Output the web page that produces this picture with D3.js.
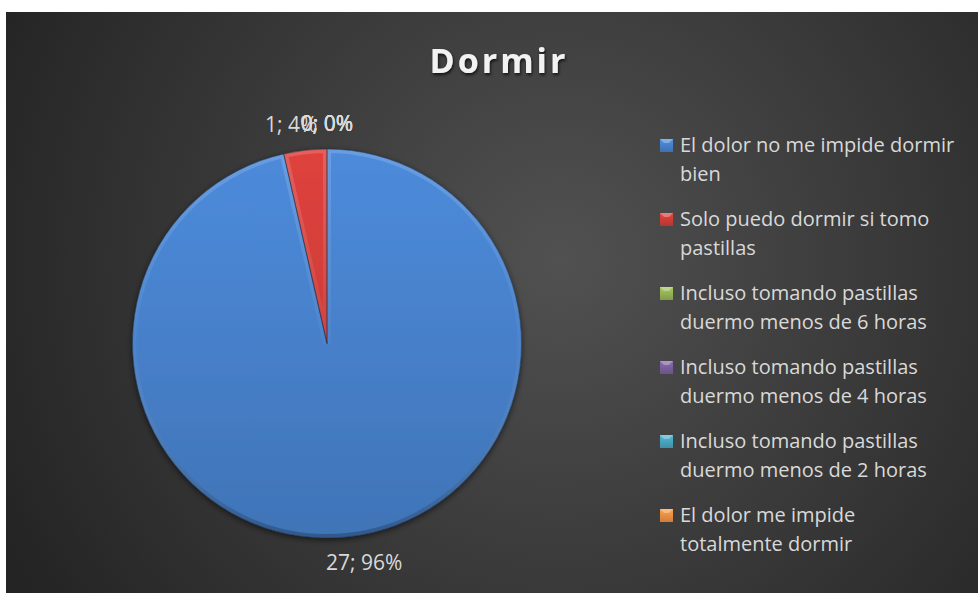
<!DOCTYPE html>
<html>
<head>
<meta charset="utf-8">
<script src="https://cdn.jsdelivr.net/npm/d3@7/dist/d3.min.js"></script>
<style>
  html, body { margin: 0; padding: 0; background: #fff; }
  svg { display: block; }
</style>
</head>
<body>
<svg id="pie-chart" width="980" height="593"></svg>
<script>
const chartTitle = 'Dormir';
const categories = [
  'El dolor no me impide dormir bien',
  'Solo puedo dormir si tomo pastillas',
  'Incluso tomando pastillas duermo menos de 6 horas',
  'Incluso tomando pastillas duermo menos de 4 horas',
  'Incluso tomando pastillas duermo menos de 2 horas',
  'El dolor me impide totalmente dormir'
];
const values = [27, 1, 0, 0, 0, 0];
const colors = ['#4a86d3', '#d7403b', '#9bbb59', '#8064a2', '#4bacc6', '#f79646'];

const svg = d3.select('#pie-chart'),
  width = +svg.attr('width'),
  height = +svg.attr('height');

const defs = svg.append('defs');

// background panel
const bg = defs.append('radialGradient').attr('id', 'bg')
  .attr('gradientUnits', 'userSpaceOnUse')
  .attr('cx', 560).attr('cy', 260).attr('r', 620);
bg.append('stop').attr('offset', '0%').attr('stop-color', '#515151');
bg.append('stop').attr('offset', '100%').attr('stop-color', '#242424');

svg.append('rect')
  .attr('x', 6).attr('y', 12)
  .attr('width', width - 8).attr('height', height - 12)
  .attr('fill', 'url(#bg)');

const shadow = defs.append('filter').attr('id', 'shadow')
  .attr('x', '-20%').attr('y', '-20%').attr('width', '140%').attr('height', '140%');
shadow.append('feDropShadow')
  .attr('dx', 0).attr('dy', 2).attr('stdDeviation', 3)
  .attr('flood-color', '#000').attr('flood-opacity', 0.6);

const titleShadow = defs.append('filter').attr('id', 'titleShadow');
titleShadow.append('feDropShadow')
  .attr('dx', 1).attr('dy', 2).attr('stdDeviation', 1.5)
  .attr('flood-color', '#000').attr('flood-opacity', 0.7);

// title
svg.append('text')
  .attr('x', 499).attr('y', 73)
  .attr('text-anchor', 'middle')
  .style('font-family', '"Open Sans", sans-serif')
  .style('font-weight', 'bold')
  .style('font-size', '34px')
  .style('letter-spacing', '3px')
  .attr('fill', '#f2f2f2')
  .attr('filter', 'url(#titleShadow)')
  .text(chartTitle);

// pie
const cx = 327, cy = 343.5, radius = 194.5;
const g = svg.append('g').attr('transform', 'translate(' + cx + ',' + cy + ')');

const pie = d3.pie().sort(null).value(function (d) { return d; });
const arcs = pie(values);
const arc = d3.arc().innerRadius(0).outerRadius(radius);
const total = d3.sum(values);

colors.forEach(function (c, i) {
  const gr = defs.append('linearGradient').attr('id', 'slice' + i)
    .attr('gradientUnits', 'userSpaceOnUse')
    .attr('x1', 0).attr('y1', -radius).attr('x2', 0).attr('y2', radius);
  gr.append('stop').attr('offset', '0%').attr('stop-color', d3.color(c).brighter(0.1));
  gr.append('stop').attr('offset', '100%').attr('stop-color', d3.color(c).darker(0.4));
});

const bevel = defs.append('linearGradient').attr('id', 'bevel')
  .attr('gradientUnits', 'userSpaceOnUse')
  .attr('x1', 0).attr('y1', -radius).attr('x2', 0).attr('y2', radius);
bevel.append('stop').attr('offset', '0%').attr('stop-color', '#fff').attr('stop-opacity', 0.16);
bevel.append('stop').attr('offset', '50%').attr('stop-color', '#fff').attr('stop-opacity', 0.03);
bevel.append('stop').attr('offset', '100%').attr('stop-color', '#000').attr('stop-opacity', 0.25);

const shown = arcs.filter(function (d) { return d.value > 0; });

g.append('g').attr('filter', 'url(#shadow)')
  .selectAll('path')
  .data(shown)
  .enter().append('path')
  .attr('d', arc)
  .attr('fill', function (d) { return 'url(#slice' + d.index + ')'; });

shown.forEach(function (d) {
  defs.append('clipPath').attr('id', 'clip' + d.index)
    .append('path').attr('d', arc(d));
});

// bevel rim
g.append('g').selectAll('path')
  .data(shown)
  .enter().append('path')
  .attr('d', arc)
  .attr('fill', 'none')
  .attr('stroke', 'url(#bevel)')
  .attr('stroke-width', 8)
  .attr('clip-path', function (d) { return 'url(#clip' + d.index + ')'; });

g.append('g').selectAll('path')
  .data(shown)
  .enter().append('path')
  .attr('d', arc)
  .attr('fill', 'none')
  .attr('stroke', '#1d3350')
  .attr('stroke-opacity', 0.6)
  .attr('stroke-width', 0.8);

// data labels, outside end
const labelPad = 15, spreadX = 85;
g.append('g').selectAll('text')
  .data(arcs)
  .enter().append('text')
  .style('font-family', '"Open Sans", sans-serif')
  .style('font-size', '21px')
  .attr('fill', '#d9d9d9')
  .attr('text-anchor', 'middle')
  .attr('dy', '0.36em')
  .text(function (d) {
    return d.value + '; ' + d3.format('.0%')(d.value / total);
  })
  .each(function (d) {
    const a = (d.startAngle + d.endAngle) / 2,
      ux = Math.sin(a), uy = -Math.cos(a),
      w = this.getComputedTextLength(), h = 22;
    d3.select(this)
      .attr('x', ux * (radius + labelPad + spreadX) + ux * w / 2)
      .attr('y', uy * (radius + labelPad) + uy * h / 2);
  });

// legend
const legX = 660, legY = 139, legStep = 74, lineH = 29, maxW = 282;
const legend = svg.append('g');

categories.forEach(function (name, i) {
  const y0 = legY + i * legStep;
  const mg = defs.append('linearGradient').attr('id', 'mk' + i)
    .attr('x1', 0).attr('y1', 0).attr('x2', 0).attr('y2', 1);
  mg.append('stop').attr('offset', '0%').attr('stop-color', d3.color(colors[i]).brighter(0.2));
  mg.append('stop').attr('offset', '100%').attr('stop-color', d3.color(colors[i]).darker(0.5));

  legend.append('rect')
    .attr('x', legX).attr('y', y0)
    .attr('width', 13).attr('height', 13)
    .attr('fill', 'url(#mk' + i + ')');
  legend.append('path')
    .attr('d', 'M' + legX + ',' + y0 + 'h13l-4,4h-5z')
    .attr('fill', '#fff').attr('fill-opacity', 0.3);

  const t = legend.append('text')
    .attr('x', legX + 20).attr('y', y0 + 13)
    .style('font-family', '"Open Sans", sans-serif')
    .style('font-size', '20px')
    .attr('fill', '#d9d9d9');

  const words = name.split(' ');
  let line = [];
  let tspan = t.append('tspan').attr('x', legX + 20).attr('dy', 0);
  words.forEach(function (w) {
    line.push(w);
    tspan.text(line.join(' '));
    if (tspan.node().getComputedTextLength() > maxW && line.length > 1) {
      line.pop();
      tspan.text(line.join(' '));
      line = [w];
      tspan = t.append('tspan').attr('x', legX + 20).attr('dy', lineH).text(w);
    }
  });
});
</script>
</body>
</html>
